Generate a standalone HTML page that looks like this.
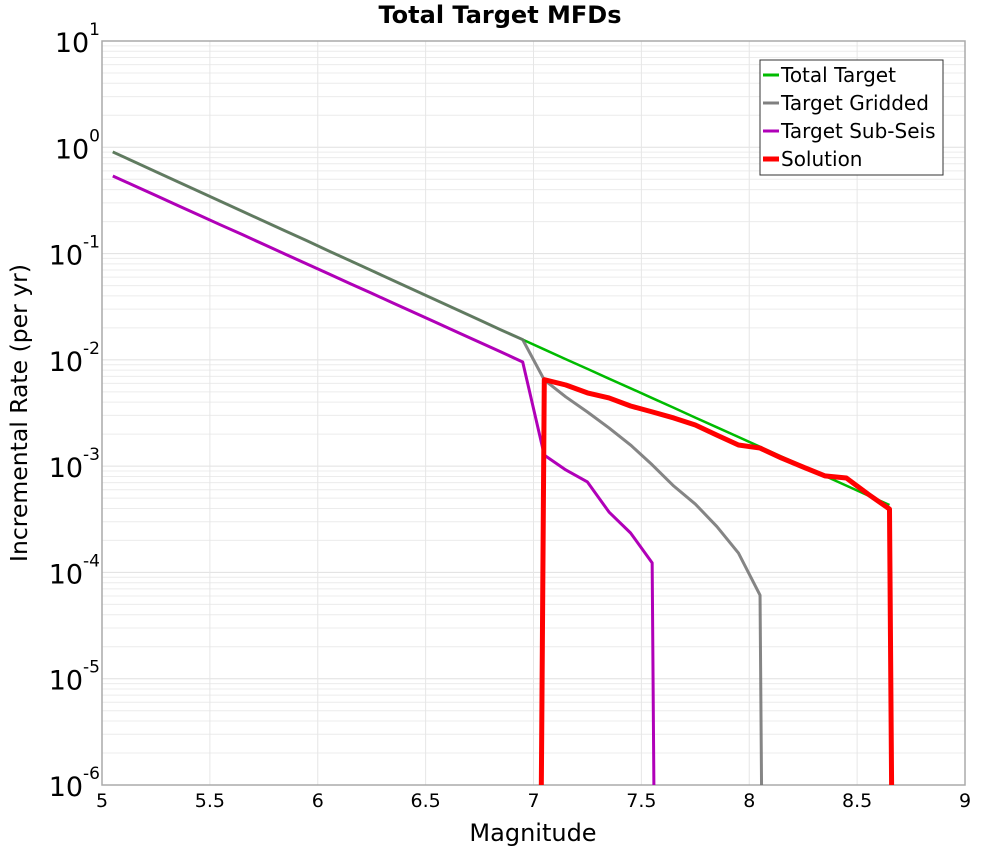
<!DOCTYPE html>
<html><head><meta charset="utf-8"><style>
html,body{margin:0;background:#fff;overflow:hidden;width:1000px;height:850px}
svg{display:block;font-family:"DejaVu Sans","Liberation Sans",sans-serif}
</style></head><body>
<svg id="chart" width="1000" height="850">
<text x="500" y="23" text-anchor="middle" font-size="24" font-weight="bold">Total Target MFDs</text>
<g id="grid"></g>
<g id="axes"></g>
<g id="series"></g>
<text x="533" y="841" text-anchor="middle" font-size="24">Magnitude</text>
<text transform="translate(27,413) rotate(-90)" text-anchor="middle" font-size="23.5">Incremental Rate (per yr)</text>
<g>
<rect x="760" y="60" width="183" height="115" fill="#fff" stroke="#333" stroke-width="1"/>
<g><line x1="763" y1="75" x2="779" y2="75" stroke="#00bb00" stroke-width="3"/><text x="781" y="82" font-size="20">Total Target</text></g>
<g><line x1="763" y1="103" x2="779" y2="103" stroke="#808080" stroke-width="3"/><text x="781" y="110" font-size="20">Target Gridded</text></g>
<g><line x1="763" y1="131" x2="779" y2="131" stroke="#b000b8" stroke-width="3"/><text x="781" y="138" font-size="20">Target Sub-Seis</text></g>
<g><line x1="763" y1="159" x2="779" y2="159" stroke="#ff0000" stroke-width="5"/><text x="781" y="166" font-size="20">Solution</text></g>
</g>
</svg>
<script>
const mags=[5.05,5.15,5.25,5.35,5.45,5.55,5.65,5.75,5.85,5.95,6.05,6.15,6.25,6.35,6.45,6.55,6.65,6.75,6.85,6.95,7.05,7.15,7.25,7.35,7.45,7.55,7.65,7.75,7.85,7.95,8.05,8.15,8.25,8.35,8.45,8.55,8.65,8.75];
const totalTarget=[0.904,0.730,0.589,0.475,0.384,0.310,0.250,0.202,0.163,0.132,0.106,0.0857,0.0692,0.0558,0.0451,0.0364,0.0294,0.0237,0.0191,0.0155,0.01253,0.01014,0.00822,0.00665,0.00540,0.00437,0.00354,0.00286,0.00232,0.00188,0.00152,0.00123,0.00100,0.00081,0.000656,0.000531,0.000431,null];
const targetGridded=[0.904,0.730,0.589,0.475,0.384,0.310,0.250,0.202,0.163,0.132,0.106,0.0857,0.0692,0.0558,0.0451,0.0364,0.0294,0.0237,0.0191,0.0155,0.00647,0.00448,0.00323,0.00229,0.00158,0.00103,0.00065,0.00044,0.00027,0.000152,0.000061,1e-30,null,null,null,null,null,null];
const targetSubSeis=[0.537,0.435,0.352,0.284,0.230,0.186,0.151,0.122,0.0986,0.0798,0.0646,0.0522,0.0423,0.0342,0.0277,0.0224,0.0181,0.01466,0.01186,0.00955,0.00127,0.00092,0.00071,0.00037,0.000235,0.000123,1e-30,null,null,null,null,null,null,null,null,null,null,null];
const solution=[null,null,null,null,null,null,null,null,null,null,null,null,null,null,null,null,null,null,null,1e-30,0.0065,0.0058,0.00489,0.00438,0.00368,0.00324,0.00284,0.00244,0.00196,0.00158,0.00148,0.00119,0.00098,0.00081,0.000774,0.000547,0.000395,1e-30];
const xTicks=[5,5.5,6,6.5,7,7.5,8,8.5,9];
const yExps=[1,0,-1,-2,-3,-4,-5,-6];
const L=102,R=965,T=41,B=785;
const NS="http://www.w3.org/2000/svg";
function xs(m){return L+(m-5)/4*(R-L);}
function ys(v){return T+(1-Math.log10(v))/7*(B-T);}
function mk(tag,attrs,parent){const e=document.createElementNS(NS,tag);for(const k in attrs)e.setAttribute(k,attrs[k]);parent.appendChild(e);return e;}
const grid=document.getElementById('grid'),axes=document.getElementById('axes'),series=document.getElementById('series');
for(let e=-6;e<1;e++){for(let k=2;k<10;k++){const y=ys(k*Math.pow(10,e));const l=mk('line',{x1:L,x2:R,y1:y,y2:y,stroke:'#ececec','stroke-width':1},grid);

}}
for(const e of yExps){const y=ys(Math.pow(10,e));const l=mk('line',{x1:L,x2:R,y1:y,y2:y,stroke:'#e0e0e0','stroke-width':1},grid);


const t=mk('text',{x:L-2,y:y+11,'text-anchor':'end','font-size':27},axes);


const b=mk('tspan',{},t);b.textContent='10';
const s=mk('tspan',{dy:-17,'font-size':17},t);s.textContent=String(e);}
for(const m of xTicks){const x=xs(m);const l=mk('line',{x1:x,x2:x,y1:T,y2:B,stroke:'#e6e6e6','stroke-width':1},grid);


const t=mk('text',{x:x,y:B+22,'text-anchor':'middle','font-size':19},axes);


t.textContent=String(m);}
const fr=mk('rect',{x:L,y:T,width:R-L,height:B-T,fill:'none',stroke:'#aaa','stroke-width':1.5},axes);


const cp=mk('clipPath',{id:'clip'},series);
mk('rect',{x:L,y:T,width:R-L,height:B-T},cp);
function draw(vals,color,w,name,op){let d='';let pen=false;vals.forEach((v,i)=>{if(v==null){pen=false;return;}d+=(pen?'L':'M')+xs(mags[i]).toFixed(2)+','+ys(v).toFixed(2);pen=true;});
const p=mk('path',{d:d,fill:'none',stroke:color,'stroke-width':w,'stroke-linejoin':'round','clip-path':'url(#clip)','stroke-opacity':op},series);

}
draw(totalTarget,'#00bb00',2.5,'total-target-line',1);
draw(targetGridded,'#707070',3,'target-gridded-line',0.85);
draw(targetSubSeis,'#b000b8',3,'target-sub-seis-line',1);
draw(solution,'#ff0000',5,'solution-line',1);
</script>
</body></html>
